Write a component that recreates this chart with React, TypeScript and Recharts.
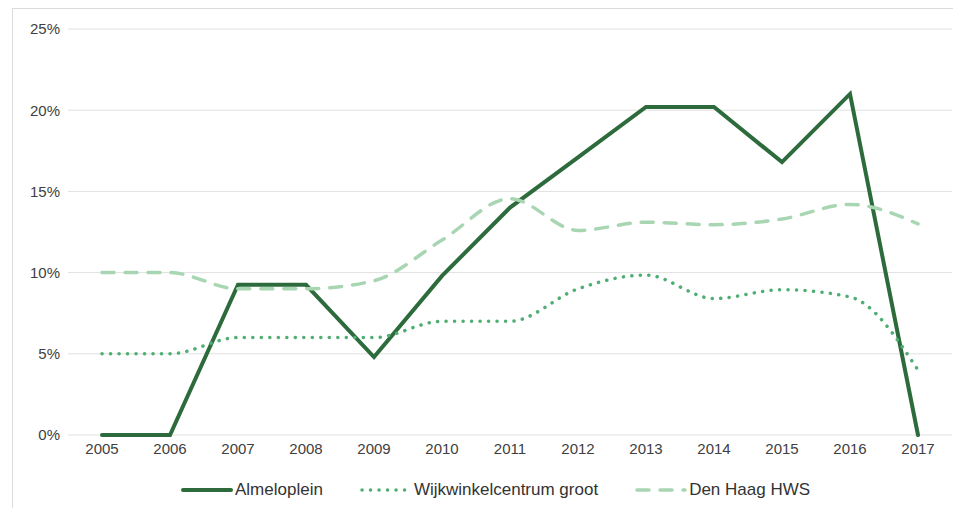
import { CartesianGrid, Legend, Line, LineChart, XAxis, YAxis } from 'recharts';

// Aandeel per jaar (%)
const years = ['2005', '2006', '2007', '2008', '2009', '2010', '2011', '2012', '2013', '2014', '2015', '2016', '2017'];
const almeloplein = [0, 0, 9.25, 9.25, 4.8, 9.8, 14.0, 17.1, 20.2, 20.2, 16.8, 21.0, 0];
const wijkwinkelcentrum = [5, 5, 6, 6, 6, 7, 7, 9.0, 9.85, 8.4, 8.95, 8.5, 4.0];
const denHaag = [10, 10, 9.0, 9.0, 9.5, 12.0, 14.55, 12.6, 13.1, 12.95, 13.3, 14.2, 13.0];
const yTicks = [0, 5, 10, 15, 20, 25];

const COLORS = {
  almeloplein: '#2d6b3c',
  wijk: '#4fae72',
  denHaag: '#a8d6b2',
};

const SERIES = [
  { key: 'almeloplein', name: 'Almeloplein', color: COLORS.almeloplein, dash: undefined, type: 'linear' as const },
  { key: 'wijk', name: 'Wijkwinkelcentrum groot', color: COLORS.wijk, dash: '0.1 8.4', type: 'monotone' as const },
  { key: 'denHaag', name: 'Den Haag HWS', color: COLORS.denHaag, dash: '12 11', type: 'monotone' as const },
];

const rows = years.map((year, i) => ({
  year,
  almeloplein: almeloplein[i],
  wijk: wijkwinkelcentrum[i],
  denHaag: denHaag[i],
}));

const FONT = '"Liberation Sans", Arial, sans-serif';

function renderLegend() {
  return (
    <div
      style={{
        display: 'flex',
        gap: 36,
        fontFamily: FONT,
        fontSize: 17,
        lineHeight: '20px',
        height: 20,
        color: '#333',
        paddingLeft: 180,
      }}
    >
      {SERIES.map((s) => (
        <div key={s.key} style={{ display: 'flex', alignItems: 'center' }}>
          <svg width={54} height={10} style={{ marginRight: 1 }}>
            <line
              x1={3}
              y1={5}
              x2={51}
              y2={5}
              stroke={s.color}
              strokeWidth={s.key === 'almeloplein' ? 4 : 3.5}
              strokeDasharray={s.dash}
              strokeLinecap="round"
            />
          </svg>
          <span>{s.name}</span>
        </div>
      ))}
    </div>
  );
}

export default function App() {
  return (
    <div style={{ position: 'absolute', left: 0, top: 0, width: 953, height: 508, overflow: 'hidden', background: '#fff' }}>
      <div
        style={{
          position: 'absolute',
          left: 12,
          top: 8,
          width: 980,
          height: 540,
          border: '1px solid #dcdcdc',
        }}
      />
      <div style={{ position: 'absolute', left: 0, top: 0 }}>
        <LineChart width={953} height={508} data={rows} margin={{ top: 29, right: 1, left: 8, bottom: 23 }}>
          <CartesianGrid vertical={false} stroke="#e0e0e0" />
          <XAxis
            dataKey="year"
            padding={{ left: 34, right: 34 }}
            axisLine={false}
            tickLine={false}
            tick={{ fontSize: 15, fill: '#404040', fontFamily: FONT }}
            height={30}
          />
          <YAxis
            domain={[0, 25]}
            ticks={yTicks}
            axisLine={false}
            tickLine={false}
            width={60}
            tickFormatter={(v: number) => `${v}%`}
            tick={{ fontSize: 15, fill: '#404040', fontFamily: FONT }}
          />
          <Legend verticalAlign="bottom" content={renderLegend} wrapperStyle={{ top: 480, left: 0 }} />
          {SERIES.map((s) => (
            <Line
              key={s.key}
              dataKey={s.key}
              name={s.name}
              type={s.type}
              stroke={s.color}
              strokeWidth={s.key === 'almeloplein' ? 4 : 3.5}
              strokeDasharray={s.dash}
              strokeLinecap="round"
              dot={false}
              activeDot={false}
              isAnimationActive={false}
            />
          ))}
        </LineChart>
      </div>
    </div>
  );
}
